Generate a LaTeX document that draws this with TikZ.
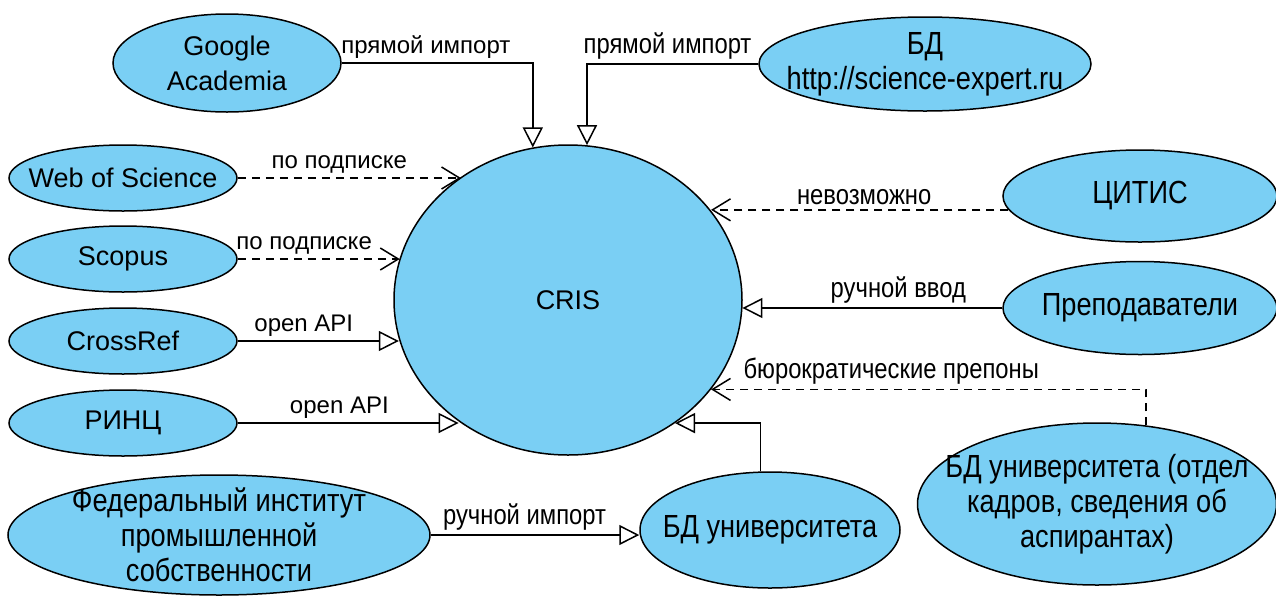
\documentclass[tikz,border=0pt]{standalone}
\usepackage{fontspec}
\setmainfont{Liberation Sans}
\newfontfamily\narrowfont[FakeStretch=0.85]{Liberation Sans}
\usetikzlibrary{shapes.geometric,arrows.meta}
\definecolor{cellblue}{RGB}{122,207,244}
\tikzset{
  ell/.style n args={2}{ellipse, draw=black, line width=0.75pt, fill=cellblue,
    inner sep=0pt, minimum width=#1*0.5pt, minimum height=#2*0.5pt},
  ntext/.style={align=center, inner sep=0pt, font=\fontsize{13.5}{17.5}\selectfont},
  nntext/.style={align=center, inner sep=0pt, font=\narrowfont\fontsize{16}{17.5}\selectfont},
  conn/.style={draw=black, line width=0.75pt},
  dashline/.style={dash pattern=on 4pt off 3pt},
  tri/.style={-{Triangle[length=10pt,width=10pt,fill=white,line width=0.75pt]}},
  barb/.style={-{Straight Barb[length=9pt,width=11pt,line width=0.75pt]}},
  lab/.style={above, inner sep=2pt, font=\fontsize{12}{14}\selectfont},
  nlab/.style={above, inner sep=2pt, font=\narrowfont\fontsize{14}{16}\selectfont}
}
\begin{document}
\begin{tikzpicture}[x=0.5pt,y=-0.5pt]
\useasboundingbox (0,0) rectangle (1276,596);
\fill[white] (0,0) rectangle (1276,596);
% nodes
\node[ell={348}{310}, label={[ntext,name=tcris]center:CRIS}] (cris) at (568,300) {};
\node[ell={228}{98}, label={[ntext,name=tgoogle]center:{Google\\Academia}}] (google) at (227,63) {};
\node[ell={332}{94}, label={[nntext,name=tsci]center:{БД\\http://science-expert.ru}}] (sci) at (925,64) {};
\node[ell={228}{66}, label={[ntext,name=twos]center:Web of Science}] (wos) at (123,178) {};
\node[ell={228}{66}, label={[ntext,name=tscopus]center:Scopus}] (scopus) at (123,259) {};
\node[ell={228}{66}, label={[ntext,name=tcross]center:CrossRef}] (crossref) at (123,341) {};
\node[ell={228}{66}, label={[ntext,name=trinc]center:РИНЦ}] (rinc) at (123,423) {};
\node[ell={422}{120}, label={[nntext,name=tfed]center:{Федеральный институт\\промышленной\\собственности}}] (fed) at (219,535) {};
\node[ell={260}{116}, label={[nntext,name=tbdu]center:БД университета}] (bdu) at (770,530) {};
\node[ell={274}{92}, label={[nntext,name=tcitis]center:ЦИТИС}] (citis) at (1140,196) {};
\node[ell={274}{93}, label={[nntext,name=tprep]center:Преподаватели}] (prep) at (1140,308) {};
\node[ell={359}{162}, label={[nntext,name=tbduo]center:{БД университета (отдел\\кадров, сведения об\\аспирантах)}}] (bduo) at (1097,504) {};
% connectors
\draw[conn, tri] (google.east) -| node[lab, pos=0.22]{прямой импорт} (cris.103);
\draw[conn, tri] (sci.west) -| node[nlab, pos=0.265]{прямой импорт} (cris.83.7);
\draw[conn, dashline, barb] (wos.east) -- node[lab, pos=0.455]{по подписке} (wos.east -| cris.131.3);
\draw[conn, dashline, barb] (scopus.east) -- node[lab, pos=0.41]{по подписке} (scopus.east -| cris.166.3);
\draw[conn, tri] (crossref.east) -- node[lab, pos=0.41]{open API} (crossref.east -| cris.193.4);
\draw[conn, tri] (rinc.east) -- node[lab, pos=0.46]{open API} (rinc.east -| cris.228.7);
\draw[conn, dashline, barb] (citis.186.1) -- node[nlab, pos=0.485]{невозможно} (citis.186.1 -| cris.32.4);
\draw[conn, tri] (prep.west) -- node[nlab, pos=0.4]{ручной ввод} (prep.west -| cris.357.4);
\draw[conn, dashline, barb] (bduo.58.7) |- node[nlab, pos=0.793]{бюрократические препоны} (cris.328.9);
\draw[conn, tri] (bdu.99.8) |- (cris.311.3);
\draw[conn, tri] (fed.east) -- node[nlab, pos=0.45]{ручной импорт} (fed.east -| bdu.west);
\end{tikzpicture}
\end{document}
